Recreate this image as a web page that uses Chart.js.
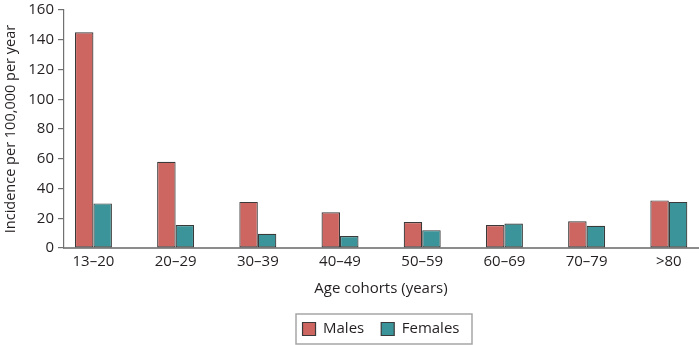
<!DOCTYPE html>
<html>
<head>
<meta charset="utf-8">
<title>Incidence by age cohort</title>
<script src="https://cdn.jsdelivr.net/npm/chart.js@4/dist/chart.umd.min.js"></script>
<style>
  body { margin: 0; background: #fff; }
  #wrap { width: 699px; height: 345px; }
</style>
</head>
<body>
<div id="wrap"><canvas id="incidenceChart" width="699" height="345"></canvas></div>
<script>
// Incidence per 100,000 per year, by age cohort
const ageCohorts = ['13–20', '20–29', '30–39', '40–49', '50–59', '60–69', '70–79', '>80'];
const males = [145, 58, 31, 24, 17.5, 15.5, 18, 32];
const females = [30, 15.5, 9.5, 8, 12, 16.5, 15, 31];

const textColor = '#231f20';
const axisColor = '#8c8c8c';
const font = { family: '"Open Sans", sans-serif', size: 15 };

// linear x axis so the groups can sit closer to the axis ends than a category scale allows
const toPoints = values => values.map((v, i) => ({ x: i, y: v }));

// centre the legend under the plot area and put a frame round it
const legendFrame = {
    id: 'legendFrame',
    afterLayout(chart) {
        const legend = chart.legend;
        legend.left = chart.chartArea.left;
        legend.right = chart.chartArea.right;
        legend.width = legend.right - legend.left;
        legend.top += 1.5;
        legend.bottom += 1.5;
    },
    afterDraw(chart) {
        const boxes = chart.legend.legendHitBoxes;
        if (!boxes.length) return;
        const left = Math.min(...boxes.map(b => b.left)) - 7;
        const right = Math.max(...boxes.map(b => b.left + b.width)) + 12;
        const mid = boxes[0].top + boxes[0].height / 2;
        const ctx = chart.ctx;
        ctx.save();
        ctx.strokeStyle = '#a6a6a6';
        ctx.lineWidth = 1.5;
        ctx.strokeRect(Math.round(left), Math.round(mid - 15), Math.round(right - left), 30);
        ctx.restore();
    }
};

new Chart(document.getElementById('incidenceChart'), {
    type: 'bar',
    data: {
        datasets: [
            {
                label: 'Males',
                data: toPoints(males),
                backgroundColor: '#cd6561',
                borderColor: '#3a3a3a',
                borderWidth: 1.2,
                borderSkipped: false
            },
            {
                label: 'Females',
                data: toPoints(females),
                backgroundColor: '#3a9499',
                borderColor: '#3a3a3a',
                borderWidth: 1.2,
                borderSkipped: false
            }
        ]
    },
    options: {
        responsive: false,
        animation: false,
        categoryPercentage: 0.45,
        barPercentage: 1,
        layout: { padding: { left: 0, right: 1, top: 0, bottom: 0 } },
        plugins: {
            legend: {
                position: 'bottom',
                labels: {
                    boxWidth: 13,
                    boxHeight: 13,
                    padding: 17,
                    color: textColor,
                    font: font
                }
            },
            tooltip: { enabled: false }
        },
        scales: {
            x: {
                type: 'linear',
                offset: false,
                min: -0.358,
                max: 7.355,
                z: 1,
                afterFit: scale => { scale.height = 55; },
                grid: { display: false, drawTicks: false },
                border: { display: true, color: axisColor, width: 2 },
                ticks: {
                    stepSize: 1,
                    includeBounds: false,
                    autoSkip: false,
                    maxRotation: 0,
                    padding: 5,
                    color: textColor,
                    font: font,
                    callback: value => ageCohorts[value] ?? ''
                },
                title: {
                    display: true,
                    text: 'Age cohorts (years)',
                    color: textColor,
                    font: font,
                    padding: { top: 0, bottom: 5 }
                }
            },
            y: {
                min: 0,
                max: 160,
                afterFit: scale => { scale.width = 64; },
                grid: {
                    drawOnChartArea: false,
                    drawTicks: true,
                    tickLength: 6,
                    color: '#707070',
                    lineWidth: 1.2
                },
                border: { display: true, color: '#707070', width: 1.2 },
                ticks: {
                    stepSize: 20,
                    padding: 4,
                    color: textColor,
                    font: { family: font.family, size: 15, lineHeight: 0.8 }
                },
                title: {
                    display: true,
                    text: 'Incidence per 100,000 per year',
                    color: textColor,
                    font: { family: font.family, size: 14.5 },
                    padding: { top: 2, bottom: 0 }
                }
            }
        }
    },
    plugins: [legendFrame]
});
</script>
</body>
</html>
